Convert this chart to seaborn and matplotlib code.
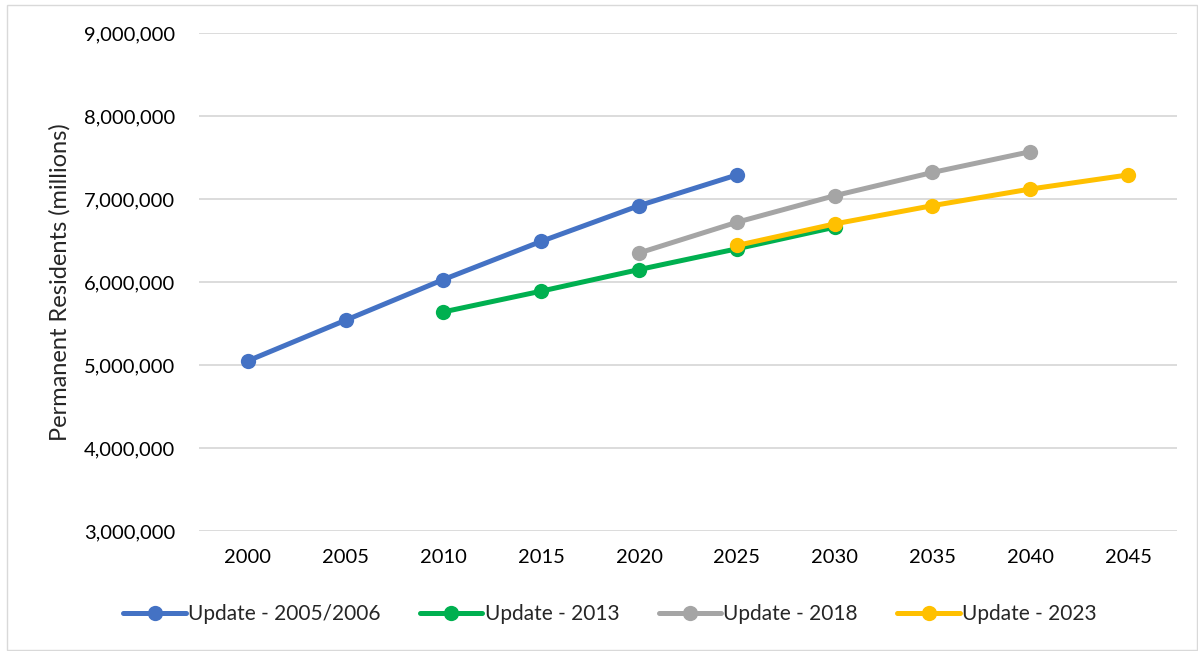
import matplotlib
matplotlib.use("Agg")
import matplotlib.pyplot as plt
import matplotlib.ticker as mticker
import seaborn as sns
import pandas as pd

years_0506 = [2000, 2005, 2010, 2015, 2020, 2025]
vals_0506 = [5050000, 5540000, 6030000, 6490000, 6920000, 7290000]
years_2013 = [2010, 2015, 2020, 2025, 2030]
vals_2013 = [5640000, 5890000, 6150000, 6400000, 6660000]
years_2018 = [2020, 2025, 2030, 2035, 2040]
vals_2018 = [6350000, 6720000, 7040000, 7320000, 7570000]
years_2023 = [2025, 2030, 2035, 2040, 2045]
vals_2023 = [6440000, 6700000, 6920000, 7120000, 7290000]

series_names = ["Update - 2005/2006", "Update - 2013", "Update - 2018", "Update - 2023"]
colors = ["#4472C4", "#00B050", "#A5A5A5", "#FFC000"]
x_ticks = [2000, 2005, 2010, 2015, 2020, 2025, 2030, 2035, 2040, 2045]

frames = []
for name, yrs, vals in zip(series_names,
                           [years_0506, years_2013, years_2018, years_2023],
                           [vals_0506, vals_2013, vals_2018, vals_2023]):
    frames.append(pd.DataFrame({"Year": yrs, "Value": vals, "Series": name}))
df = pd.concat(frames, ignore_index=True)

sns.set_theme(style="white")
plt.rcParams["font.family"] = ["Lato", "DejaVu Sans"]

fig = plt.figure(figsize=(11.98, 6.51), dpi=100)
ax = fig.add_axes([199 / 1198, 1 - 531 / 651, (1177 - 199) / 1198, (531 - 33) / 651])

sns.lineplot(data=df, x="Year", y="Value", hue="Series", hue_order=series_names,
             palette=colors, linewidth=3.6, marker="o", markersize=11,
             markeredgewidth=0, ax=ax, legend=True)

ax.set_xlim(1997.5, 2047.5)
ax.set_ylim(3000000, 9000000)
ax.set_xticks(x_ticks)
ax.set_xticklabels([str(x) for x in x_ticks])
ax.set_yticks(range(3000000, 9000001, 1000000))
ax.yaxis.set_major_formatter(mticker.FuncFormatter(lambda v, p: f"{int(v):,}"))
ax.grid(axis="y", color="#D9D9D9", linewidth=1.3)
ax.set_axisbelow(True)
for s in ax.spines.values():
    s.set_visible(False)
ax.tick_params(axis="both", length=0, labelsize=14.5, colors="black")
ax.tick_params(axis="x", pad=13)
ax.tick_params(axis="y", pad=17)
ax.set_xlabel("")
ax.set_ylabel("Permanent Residents (millions)", fontsize=17, labelpad=10)

handles, labels = ax.get_legend_handles_labels()
ax.legend(handles, labels, loc="center", bbox_to_anchor=(610 / 1198, 1 - 614 / 651),
          bbox_transform=fig.transFigure, ncol=4, frameon=False, fontsize=15,
          handlelength=3.0, handletextpad=0.1, columnspacing=1.9)

border = plt.Rectangle((7 / 1198, 0.002), 1 - 8 / 1198, 1 - 6 / 651, transform=fig.transFigure,
                       fill=False, edgecolor="#D9D9D9", linewidth=1)
fig.patches.append(border)

fig.savefig("out.png", dpi=100)
